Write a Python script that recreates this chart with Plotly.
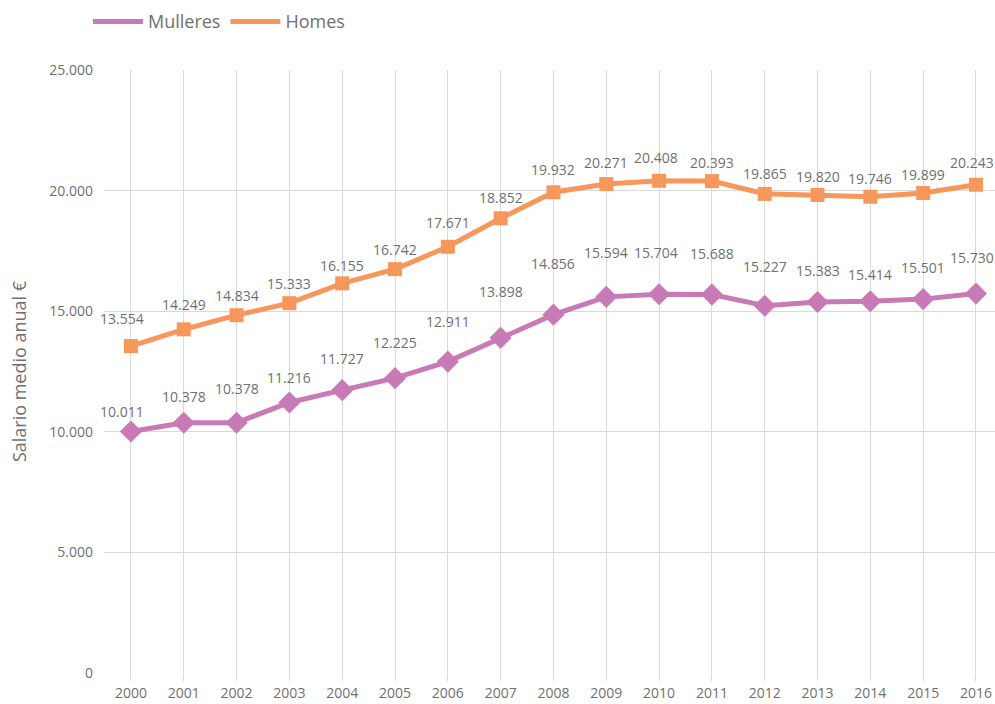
import plotly.graph_objects as go

# Salario medio anual por sexo (€)
years = [str(y) for y in range(2000, 2017)]
mulleres = [10011, 10378, 10378, 11216, 11727, 12225, 12911, 13898, 14856,
            15594, 15704, 15688, 15227, 15383, 15414, 15501, 15730]
homes = [13554, 14249, 14834, 15333, 16155, 16742, 17671, 18852, 19932,
         20271, 20408, 20393, 19865, 19820, 19746, 19899, 20243]

# label offsets above each point (px)
mulleres_dy = [20, 26, 34, 25, 32, 36, 40, 46, 51, 44, 42, 41, 39, 31, 27, 32, 36]
homes_dy = [28, 25, 20, 20, 18, 20, 24, 21, 23, 22, 23, 19, 20, 18, 18, 19, 22]
label_dx = [-9, 0, 0, 0, 0, 0, 0, 0, 0, 0, -3, 0, 0, 0, 0, 0, -4]

C_MUL = "#C77AB5"
C_HOM = "#F7975B"
TXT = "#6F6F6F"
GRID = "#D9D9D9"
FONT = "Open Sans"


def fmt(v):
    return f"{v:,}".replace(",", ".")


fig = go.Figure()

for name, vals, color, sym, size in [
    ("Mulleres", mulleres, C_MUL, "diamond", 17),
    ("Homes", homes, C_HOM, "square", 14),
]:
    fig.add_trace(go.Scatter(
        x=years, y=vals, mode="lines", name=name,
        line=dict(color=color, width=5), hoverinfo="skip",
    ))
    fig.add_trace(go.Scatter(
        x=years, y=vals, mode="markers", name=name, showlegend=False,
        marker=dict(symbol=sym, size=size, color=color, line=dict(width=0)),
    ))

# value labels; category positions are given by index on the category axis
annotations = []
for vals, dys in [(mulleres, mulleres_dy), (homes, homes_dy)]:
    for i, (v, dy, dx) in enumerate(zip(vals, dys, label_dx)):
        annotations.append(dict(
            x=i, y=v, xref="x", yref="y", text=fmt(v), showarrow=False,
            yanchor="middle", xanchor="center", yshift=dy, xshift=dx,
            font=dict(family=FONT, size=14, color=TXT),
        ))

fig.update_layout(
    width=995, height=704,
    margin=dict(l=104, r=0, t=70, b=31),
    paper_bgcolor="white", plot_bgcolor="white",
    separators=",.",
    font=dict(family=FONT, color=TXT),
    showlegend=True,
    legend=dict(
        orientation="h", x=-0.018, xanchor="left", y=1.08, yanchor="middle",
        font=dict(family=FONT, size=18, color=TXT),
        itemwidth=50, traceorder="normal",
    ),
    annotations=annotations,
    xaxis=dict(
        type="category", range=[-0.51, 16.36],
        showgrid=True, gridcolor=GRID, gridwidth=1,
        ticks="outside", ticklen=7, tickcolor=GRID, tickwidth=1,
        showline=False, zeroline=False,
        tickfont=dict(family=FONT, size=14, color=TXT),
    ),
    yaxis=dict(
        range=[0, 25000], dtick=5000, tickformat=",d",
        showgrid=True, gridcolor=GRID, gridwidth=1,
        zeroline=False, showline=False, ticks="",
        ticklabelstandoff=10,
        tickfont=dict(family=FONT, size=14, color=TXT),
        title=dict(text="Salario medio anual €", standoff=17,
                   font=dict(family=FONT, size=18, color=TXT)),
    ),
)

fig.write_html("out.html")
